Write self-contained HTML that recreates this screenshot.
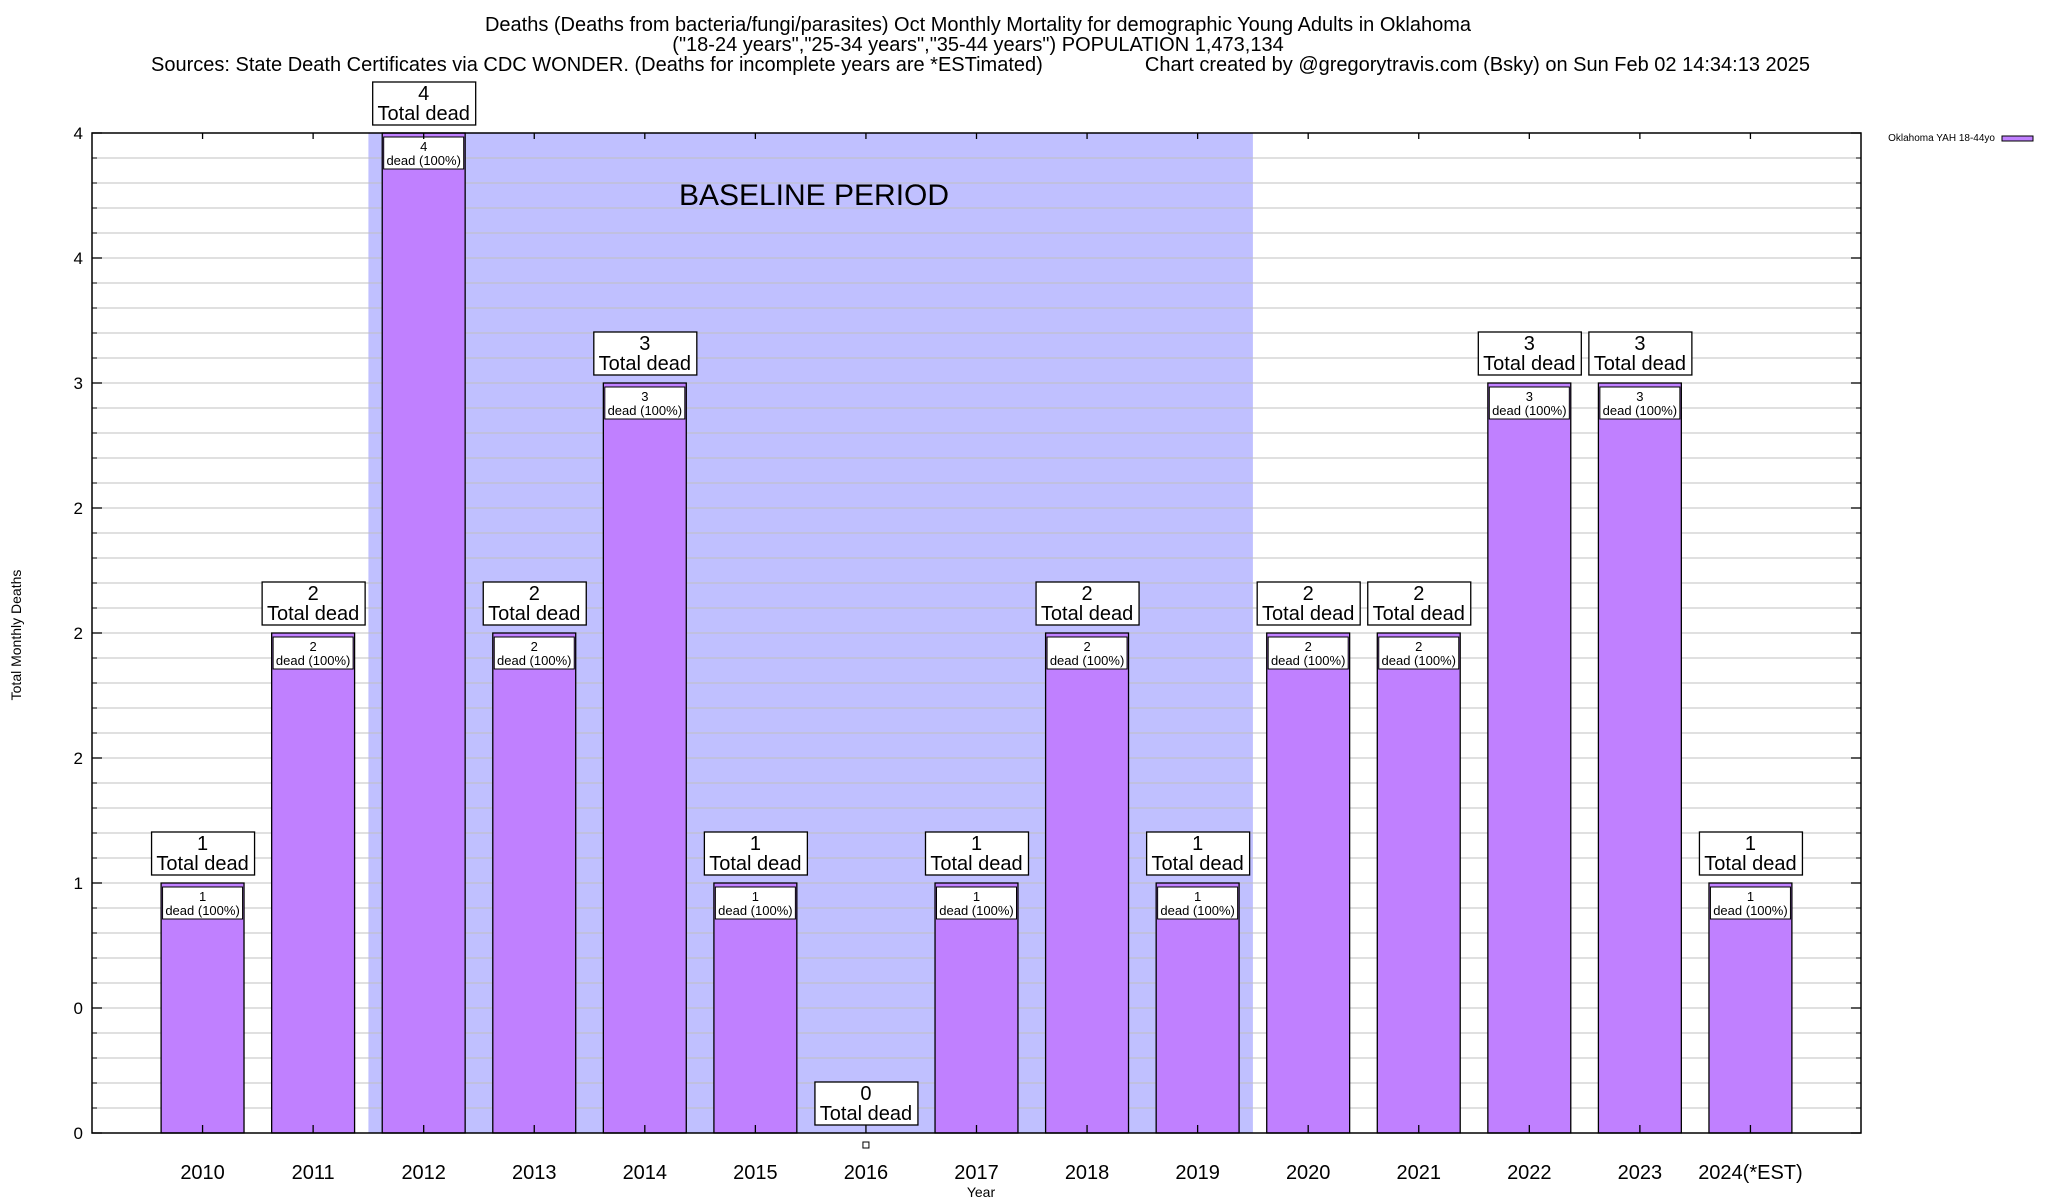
<!DOCTYPE html>
<html><head><meta charset="utf-8"><style>
html,body{margin:0;padding:0;background:#fff;}
svg{display:block;font-family:"Liberation Sans",Arial,sans-serif;}
</style></head><body>
<svg id="chart" width="2048" height="1200" viewBox="0 0 2048 1200" xmlns="http://www.w3.org/2000/svg">
<text x="978" y="31" font-size="20" text-anchor="middle">Deaths (Deaths from bacteria/fungi/parasites) Oct Monthly Mortality for demographic Young Adults in Oklahoma</text>
<text x="978" y="51" font-size="20" text-anchor="middle">("18-24 years","25-34 years","35-44 years") POPULATION 1,473,134</text>
<text x="151" y="71" font-size="20">Sources: State Death Certificates via CDC WONDER. (Deaths for incomplete years are *ESTimated)</text>
<text x="1810" y="71" font-size="20" text-anchor="end">Chart created by @gregorytravis.com (Bsky) on Sun Feb 02 14:34:13 2025</text>
<g id="plot"></g>
<text transform="translate(21,635) rotate(-90)" font-size="14" text-anchor="middle">Total Monthly Deaths</text>
<text x="981" y="1197" font-size="14" text-anchor="middle">Year</text>
<text x="1995" y="141" font-size="10" text-anchor="end">Oklahoma YAH 18-44yo</text>
<rect x="2002" y="136" width="31" height="5" fill="#c080ff" stroke="#000" stroke-width="1"/>
</svg>
<script>
const categories = ["2010","2011","2012","2013","2014","2015","2016","2017","2018","2019","2020","2021","2022","2023","2024(*EST)"];
const values = [1,2,4,2,3,1,0,1,2,1,2,2,3,3,1];
const yTickValues = [0,0.5,1,1.5,2,2.5,3,3.5,4];
const yTickLabels = ["0","0","1","2","2","2","3","4","4"];
const baselineRange = [1.5,9.5];

const L=92,R=1861,T=133,B=1133;
const xMin=-1,xMax=15,yMin=0,yMax=4;
const xs=v=>L+(v-xMin)/(xMax-xMin)*(R-L);
const ys=v=>B-(v-yMin)/(yMax-yMin)*(B-T);
const NS="http://www.w3.org/2000/svg";
const g=document.getElementById('plot');
function mk(tag,attrs,parent){const e=document.createElementNS(NS,tag);for(const k in attrs)e.setAttribute(k,attrs[k]);(parent||g).appendChild(e);return e;}

const sh=mk('rect',{x:xs(baselineRange[0]),y:T,width:xs(baselineRange[1])-xs(baselineRange[0]),height:B-T,fill:'#c0c0ff'});


for(let i=1;i<40;i++){const v=i*0.1;const y=ys(v);
 const ln=mk('line',{x1:L,x2:R,y1:y,y2:y,stroke:'#c0c0c0','stroke-width':1});
 
 }
const bt=mk('text',{x:814,y:205,'font-size':30,'text-anchor':'middle'});
bt.textContent='BASELINE PERIOD';



const bw=0.75*(xs(1)-xs(0));
categories.forEach((c,i)=>{
 const cx=xs(i),v=values[i];
 const top=ys(v);
 if(v>0){
  const b=mk('rect',{x:cx-bw/2,y:top,width:bw,height:B-top,fill:'#c080ff',stroke:'#000','stroke-width':1.3});
  
  
  const ib=mk('rect',{x:cx-40,y:top+4,width:80,height:32,fill:'#fff',stroke:'#000','stroke-width':1});
  
  
  const t1=mk('text',{x:cx,y:top+18,'font-size':13,'text-anchor':'middle'});t1.textContent=String(v);
  
  
  const t2=mk('text',{x:cx,y:top+32,'font-size':13,'text-anchor':'middle'});t2.textContent='dead (100%)';
  
  
 } else {
  const m=mk('rect',{x:cx-3,y:B+9,width:6,height:6,fill:'#fff',stroke:'#000','stroke-width':1});
  
  
 }
 const boxBottom=top-8;
 const ob=mk('rect',{x:cx-51,y:boxBottom-43,width:103,height:43,fill:'#fff',stroke:'#000','stroke-width':1.3});
 
 
 const o1=mk('text',{x:cx,y:boxBottom-25,'font-size':20,'text-anchor':'middle'});o1.textContent=String(v);
 
 
 const o2=mk('text',{x:cx,y:boxBottom-5,'font-size':20,'text-anchor':'middle'});o2.textContent='Total dead';
 
 
 const xl=mk('text',{x:cx,y:1179,'font-size':20,'text-anchor':'middle'});xl.textContent=c;
 
 
 const tk1=mk('line',{x1:cx,x2:cx,y1:T,y2:T+6,stroke:'#000','stroke-width':1.3});
 
 
 const tk2=mk('line',{x1:cx,x2:cx,y1:B-8,y2:B,stroke:'#000','stroke-width':1.3});
 
 
});
yTickValues.forEach((v,i)=>{
 const y=ys(v);
 const t=mk('text',{x:83,y:y+6,'font-size':17,'text-anchor':'end'});t.textContent=yTickLabels[i];
 
 
 const a=mk('line',{x1:L,x2:L+10,y1:y,y2:y,stroke:'#000','stroke-width':1.3});
 
 
 const b=mk('line',{x1:R-10,x2:R,y1:y,y2:y,stroke:'#000','stroke-width':1.3});
 
 
});
for(let i=1;i<40;i++){if(i%5===0)continue;const y=ys(i*0.1);
 const a=mk('line',{x1:L,x2:L+5,y1:y,y2:y,stroke:'#000','stroke-width':1});
 
 
 const b=mk('line',{x1:R-5,x2:R,y1:y,y2:y,stroke:'#000','stroke-width':1});
 
 }
const fr=mk('rect',{x:L,y:T,width:R-L,height:B-T,fill:'none',stroke:'#000','stroke-width':1.5});


</script>
</body></html>
